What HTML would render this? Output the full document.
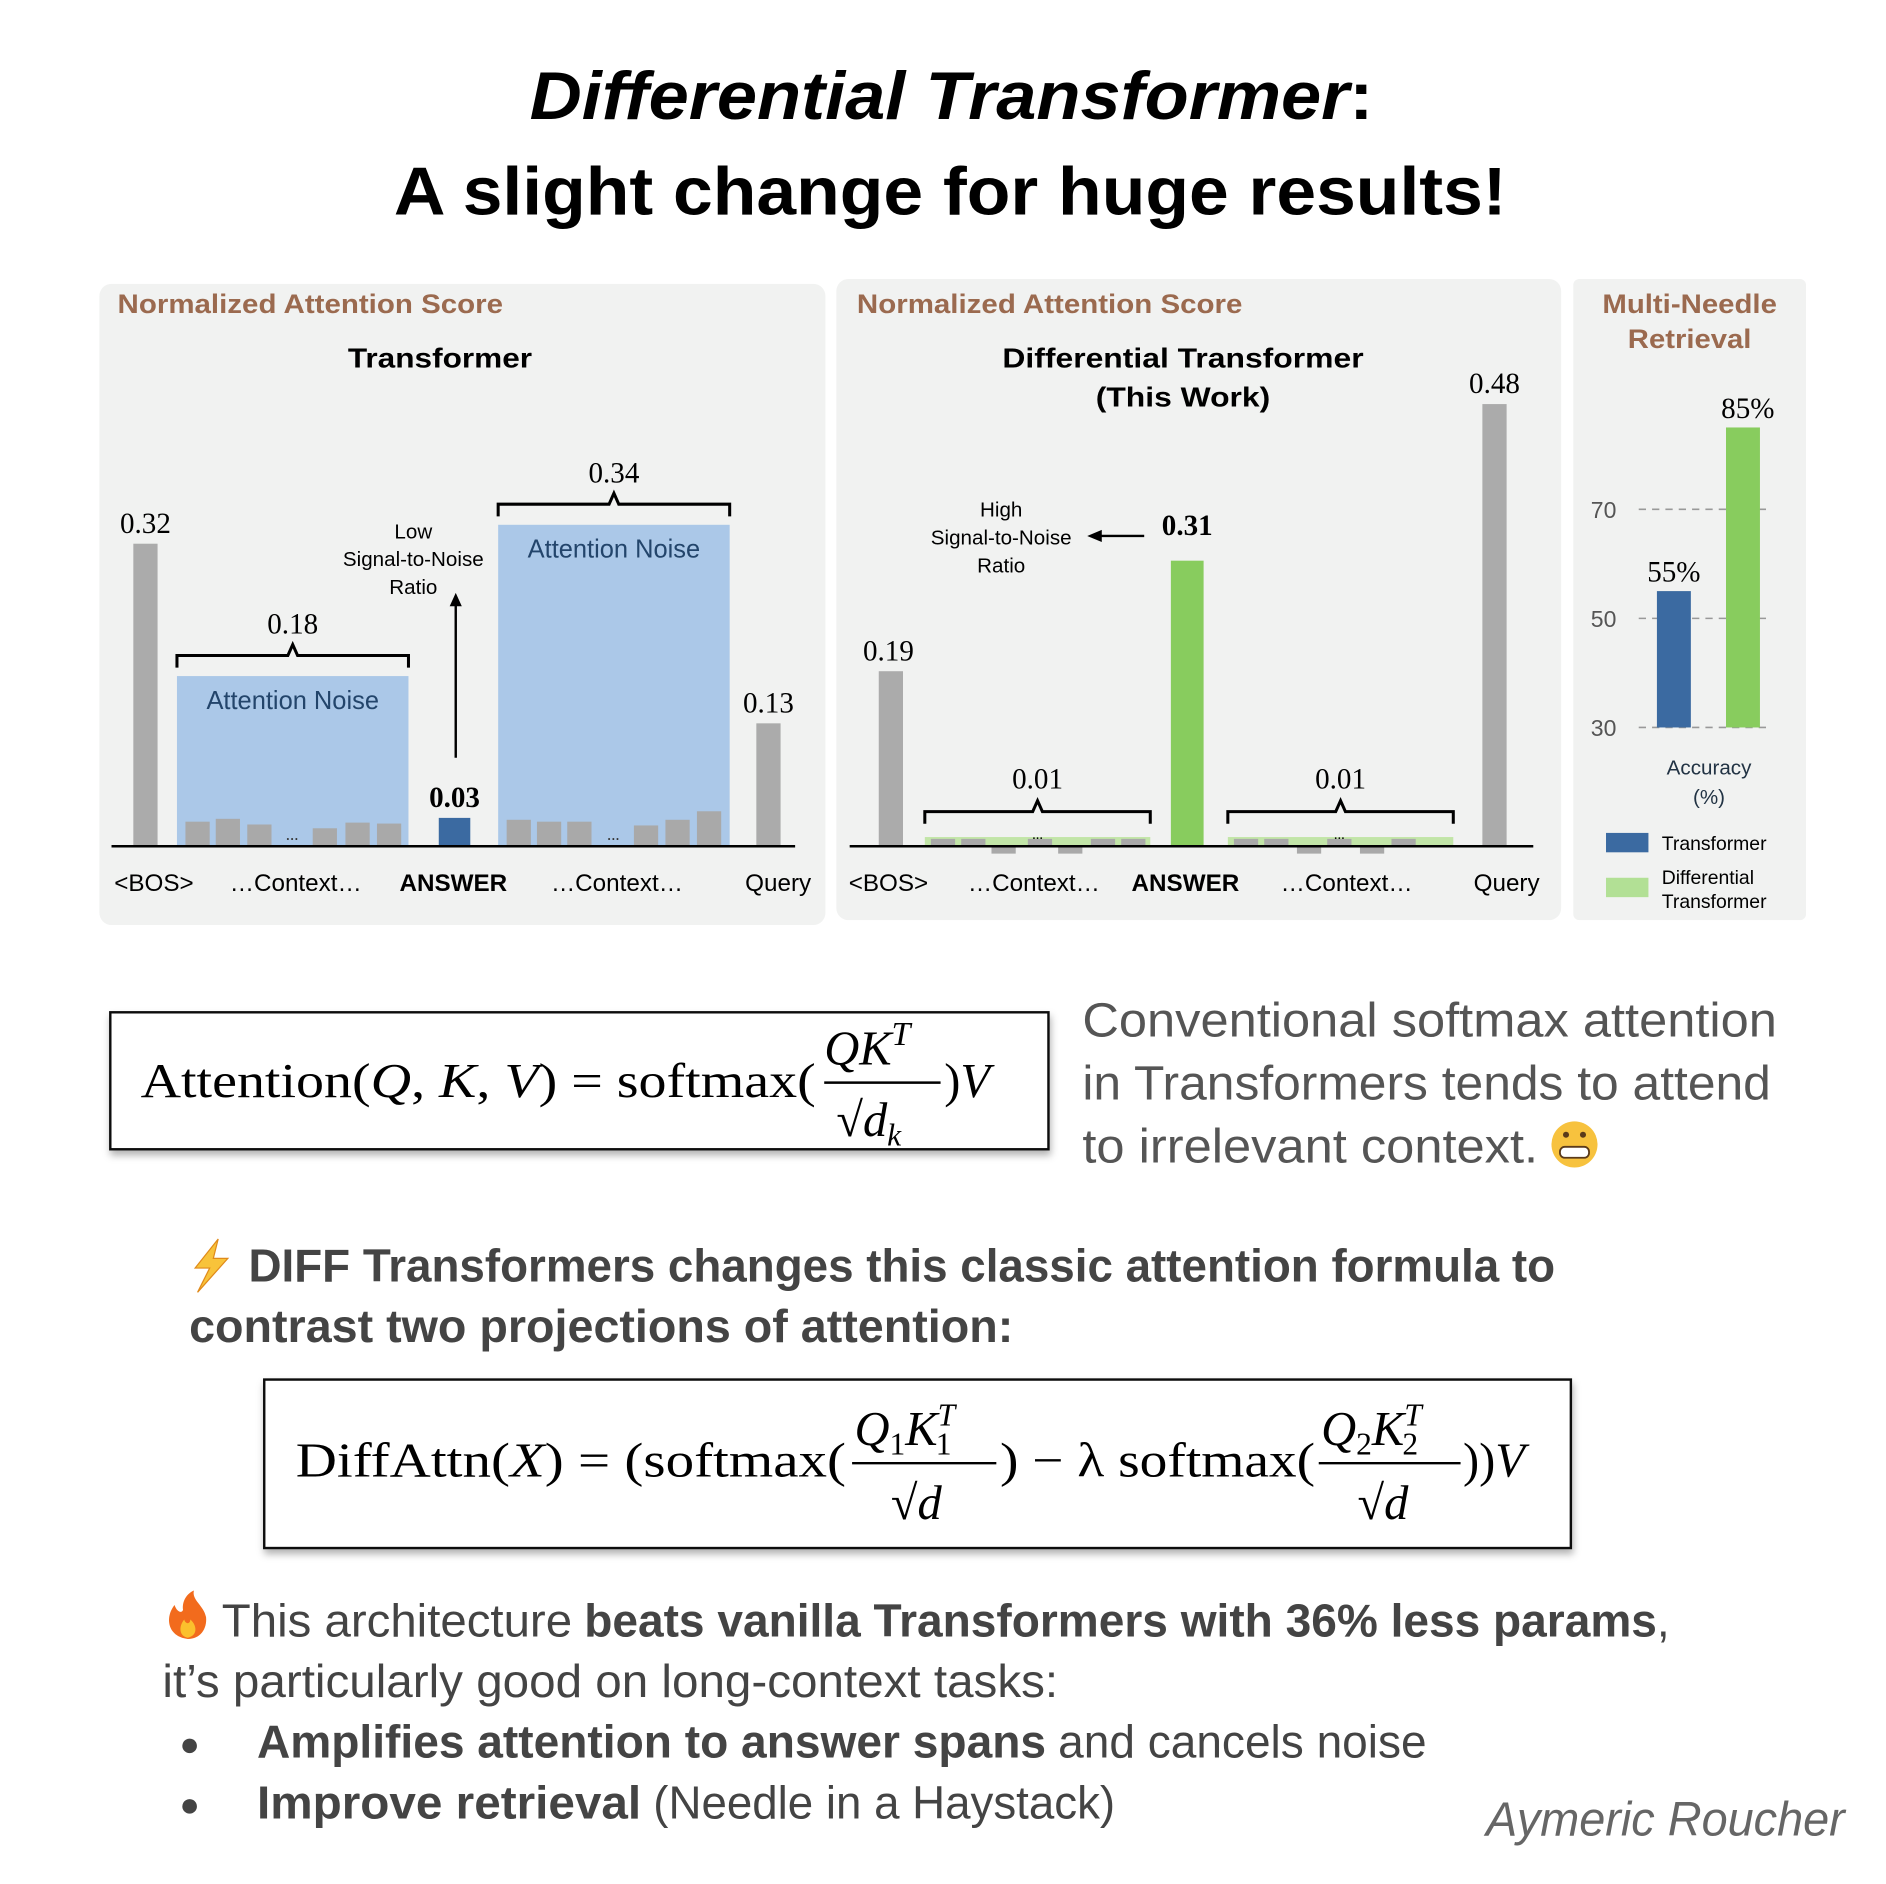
<!DOCTYPE html>
<html><head><meta charset="utf-8"><style>
html,body{margin:0;padding:0;background:#fff;}
svg{display:block;}
.ser{font-family:"Liberation Serif",serif;}
.sans{font-family:"Liberation Sans",sans-serif;}
</style></head><body>
<svg id="root" width="1886" height="1884" viewBox="0 0 1556 1554" xmlns="http://www.w3.org/2000/svg">
<defs>
<filter id="sh" x="-5%" y="-5%" width="110%" height="130%"><feDropShadow dx="1" dy="4" stdDeviation="3" flood-color="#000" flood-opacity="0.3"/></filter>
</defs>
<!-- Title -->
<g class="sans" font-weight="bold" fill="#000">
<text x="437" y="98" font-size="56" textLength="696" lengthAdjust="spacingAndGlyphs"><tspan font-style="italic">Differential Transformer</tspan>:</text>
<text x="325" y="177" font-size="56" textLength="918" lengthAdjust="spacingAndGlyphs">A slight change for huge results!</text>
</g>
<!-- panels -->
<rect x="82" y="234" width="599" height="529" rx="10" fill="#f1f2f1"/>
<rect x="690" y="230" width="598" height="529" rx="10" fill="#f1f2f1"/>
<rect x="1298" y="230" width="192" height="529" rx="5" fill="#f1f2f1"/>
<g class="sans" font-weight="bold" fill="#9b6a4f" font-size="22">
<text x="97" y="258" textLength="318" lengthAdjust="spacingAndGlyphs">Normalized Attention Score</text>
<text x="707" y="258" textLength="318" lengthAdjust="spacingAndGlyphs">Normalized Attention Score</text>
<text x="1394" y="258" text-anchor="middle" textLength="144" lengthAdjust="spacingAndGlyphs">Multi-Needle</text>
<text x="1394" y="287" text-anchor="middle" textLength="102" lengthAdjust="spacingAndGlyphs">Retrieval</text>
</g>
<g class="sans" font-weight="bold" fill="#000" font-size="23">
<text x="363" y="303" text-anchor="middle" textLength="152" lengthAdjust="spacingAndGlyphs">Transformer</text>
<text x="976" y="303" text-anchor="middle" textLength="298" lengthAdjust="spacingAndGlyphs">Differential Transformer</text>
<text x="976" y="335" text-anchor="middle" textLength="144" lengthAdjust="spacingAndGlyphs">(This Work)</text>
</g>
<g id="charts"></g>

<!-- formula 1 -->
<rect x="91" y="835" width="774" height="113" fill="#fff" stroke="#111" stroke-width="2" filter="url(#sh)"/>
<g class="ser" fill="#000" font-size="40">
<text x="116" y="905" textLength="557" lengthAdjust="spacingAndGlyphs">Attention(<tspan font-style="italic">Q</tspan>, <tspan font-style="italic">K</tspan>, <tspan font-style="italic">V</tspan>) = softmax(</text>
<text x="680" y="878" font-style="italic">QK<tspan font-size="28" dy="-16">T</tspan></text>
<line x1="680" y1="893" x2="776" y2="893" stroke="#000" stroke-width="2"/>
<text x="690" y="937">√<tspan font-style="italic">d</tspan><tspan font-size="26" font-style="italic" dy="8">k</tspan></text>
<text x="779" y="905">)<tspan font-style="italic">V</tspan></text>
</g>
<g class="sans" fill="#555" font-size="40">
<text x="893" y="855" textLength="573" lengthAdjust="spacingAndGlyphs">Conventional softmax attention</text>
<text x="893" y="907" textLength="568" lengthAdjust="spacingAndGlyphs">in Transformers tends to attend</text>
<text x="893" y="959" textLength="376" lengthAdjust="spacingAndGlyphs">to irrelevant context.</text>
</g>
<g>
<circle cx="1299" cy="944" r="19" fill="#f7c23e"/>
<circle cx="1292" cy="936" r="2.5" fill="#5a3a1a"/><circle cx="1306" cy="936" r="2.5" fill="#5a3a1a"/>
<rect x="1287" y="946" width="24" height="9" rx="4" fill="#fff" stroke="#5a3a1a" stroke-width="1.5"/>
</g>
<!-- diff text -->
<path d="M180 1022 L161 1046 L173 1046 L163 1066 L188 1038 L176 1038 Z" fill="#f8c33a" stroke="#e08a1a" stroke-width="1"/>
<g class="sans" font-weight="bold" fill="#444" font-size="38">
<text x="205" y="1057" textLength="1078" lengthAdjust="spacingAndGlyphs">DIFF Transformers changes this classic attention formula to</text>
<text x="156" y="1107" textLength="680" lengthAdjust="spacingAndGlyphs">contrast two projections of attention:</text>
</g>
<!-- formula 2 -->
<rect x="218" y="1138" width="1078" height="139" fill="#fff" stroke="#111" stroke-width="2" filter="url(#sh)"/>
<g class="ser" fill="#000" font-size="40">
<text x="244" y="1218" textLength="454" lengthAdjust="spacingAndGlyphs">DiffAttn(<tspan font-style="italic">X</tspan>) = (softmax(</text>
<text x="705" y="1192" font-style="italic">Q<tspan font-size="26" font-style="normal" dy="8">1</tspan><tspan dy="-8">K</tspan><tspan font-size="26" dy="-16">T</tspan><tspan font-size="26" font-style="normal" dx="-16" dy="24">1</tspan></text>
<line x1="703" y1="1207" x2="822" y2="1207" stroke="#000" stroke-width="2"/>
<text x="735" y="1253">√<tspan font-style="italic">d</tspan></text>
<text x="825" y="1218" textLength="260" lengthAdjust="spacingAndGlyphs">) − λ softmax(</text>
<text x="1090" y="1192" font-style="italic">Q<tspan font-size="26" font-style="normal" dy="8">2</tspan><tspan dy="-8">K</tspan><tspan font-size="26" dy="-16">T</tspan><tspan font-size="26" font-style="normal" dx="-16" dy="24">2</tspan></text>
<line x1="1088" y1="1207" x2="1205" y2="1207" stroke="#000" stroke-width="2"/>
<text x="1120" y="1253">√<tspan font-style="italic">d</tspan></text>
<text x="1207" y="1218">))<tspan font-style="italic">V</tspan></text>
</g>
<!-- bottom -->
<g>
<path d="M155 1352 C138 1350 136 1334 144 1324 C146 1330 150 1331 151 1328 C150 1320 155 1314 160 1312 C158 1320 168 1324 170 1334 C171 1344 165 1352 155 1352 Z" fill="#f26b1d"/>
<path d="M155 1351 C148 1350 147 1342 152 1336 C153 1340 157 1340 157 1336 C162 1340 164 1349 155 1351 Z" fill="#fbc02d"/>
</g>
<g class="sans" fill="#444" font-size="38">
<text x="183" y="1350" textLength="289" lengthAdjust="spacingAndGlyphs">This architecture</text>
<text x="482" y="1350" font-weight="bold" textLength="885" lengthAdjust="spacingAndGlyphs">beats vanilla Transformers with 36% less params</text>
<text x="1367" y="1350">,</text>
<text x="134" y="1400" textLength="739" lengthAdjust="spacingAndGlyphs">it’s particularly good on long-context tasks:</text>
<text x="148" y="1448" font-size="28">●</text>
<text x="148" y="1498" font-size="28">●</text>
<text x="212" y="1450" font-weight="bold" textLength="651" lengthAdjust="spacingAndGlyphs">Amplifies attention to answer spans</text>
<text x="873" y="1450" textLength="304" lengthAdjust="spacingAndGlyphs">and cancels noise</text>
<text x="212" y="1500" font-weight="bold" textLength="317" lengthAdjust="spacingAndGlyphs">Improve retrieval</text>
<text x="539" y="1500" textLength="381" lengthAdjust="spacingAndGlyphs">(Needle in a Haystack)</text>
</g>
<text class="sans" x="1522" y="1514" text-anchor="end" font-size="40" font-style="italic" fill="#666" textLength="296" lengthAdjust="spacingAndGlyphs">Aymeric Roucher</text>
</svg>
<script>
// ---- data ----
const xLabels = ['<BOS>', '...Context...', 'ANSWER', '...Context...', 'Query'];
const t1Values = [0.32, 0.18, 0.03, 0.34, 0.13];
const t1Labels = ['0.32', '0.18', '0.03', '0.34', '0.13'];
const t1Small1 = [0.026, 0.029, 0.023, 0.019, 0.025, 0.024];
const t1Small2 = [0.028, 0.026, 0.026, 0.022, 0.028, 0.037];
const t2Values = [0.19, 0.01, 0.31, 0.01, 0.48];
const t2Labels = ['0.19', '0.01', '0.31', '0.01', '0.48'];
const t2Small1 = [0.008, 0.008, -0.008, 0.008, -0.008, 0.008, 0.008];
const t2Small2 = [0.008, 0.008, -0.008, 0.008, -0.008, 0.008];
const accCategories = ['Transformer', 'Differential Transformer'];
const accValues = [55, 85];
const accLabels = ['55%', '85%'];
const accTicks = [30, 50, 70];

const NS = 'http://www.w3.org/2000/svg';
const root = document.getElementById('charts');
function mk(tag, attrs, parent, text) {
  const e = document.createElementNS(NS, tag);
  for (const k in attrs) e.setAttribute(k, attrs[k]);
  if (text !== undefined) e.textContent = text;
  (parent || root).appendChild(e);
  return e;
}
const BASE = 698;
const y1 = v => BASE - v * 780;
const y2 = v => BASE - v * 760;
const yA = v => 600 - (v - 30) * 4.5;

function bracket(x0, x1, y, parent) {
  const m = (x0 + x1) / 2;
  const p = mk('path', {d: `M${x0} ${y+10} L${x0} ${y} L${m-4} ${y} L${m} ${y-9} L${m+4} ${y} L${x1} ${y} L${x1} ${y+10}`, fill: 'none', stroke: '#000', 'stroke-width': 2.5}, parent);
  
  
}
function valLabel(x, y, t, bold, parent) {
  const e = mk('text', {x: x, y: y, 'text-anchor': 'middle', 'font-size': 24, 'font-family': '"Liberation Serif",serif', 'font-weight': bold ? 'bold' : 'normal', fill: '#000'}, parent, t);
  
  
}
function xLabel(x, t, parent) {
  const e = mk('text', {x: x, y: 735, 'text-anchor': 'middle', 'font-size': 20, 'font-family': '"Liberation Sans",sans-serif', 'font-weight': t === 'ANSWER' ? 'bold' : 'normal', fill: '#000'}, parent, t.replace(/\.\.\./g, '…'));
  
  
}
function smallBars(xs, vals, ys, parent) {
  vals.forEach((v, i) => {
    const top = Math.min(ys(v), BASE), h = Math.abs(ys(v) - BASE);
    const r = mk('rect', {x: xs[i], y: top, width: 20, height: h, fill: '#a9a9a9'}, parent);
    
    
  });
}

// ---- chart 1 ----
const g1 = mk('g', {});


{
  const slots = [[110, 130], [146, 337], [362, 388], [411, 602], [624, 644]];
  const colors = ['#ababab', '#abc8e8', '#3b6aa1', '#abc8e8', '#ababab'];
  t1Values.forEach((v, i) => {
    const [a, b] = slots[i];
    const r = mk('rect', {x: a, y: y1(v), width: b - a, height: BASE - y1(v), fill: colors[i]}, g1);
    
    
    if (i === 1 || i === 3) {
      bracket(a, b, y1(v) - 17, g1);
      valLabel((a + b) / 2, y1(v) - 35, t1Labels[i], false, g1);
      mk('text', {x: (a + b) / 2, y: y1(v) + 27, 'text-anchor': 'middle', 'font-size': 21, 'font-family': '"Liberation Sans",sans-serif', fill: '#23456b'}, g1, 'Attention Noise');
    } else {
      valLabel((a + b) / 2, y1(v) - 9, t1Labels[i], i === 2, g1);
    }
  });
  smallBars([153, 178, 204, 258, 285, 311], t1Small1, y1, g1);
  smallBars([418, 443, 468, 523, 549, 575], t1Small2, y1, g1);
  mk('text', {x: 241, y: 693, 'text-anchor': 'middle', 'font-size': 14, fill: '#333'}, g1, '...');
  mk('text', {x: 506, y: 693, 'text-anchor': 'middle', 'font-size': 14, fill: '#333'}, g1, '...');
  mk('line', {x1: 92, y1: BASE, x2: 656, y2: BASE, stroke: '#000', 'stroke-width': 2}, g1);
  mk('line', {x1: 376, y1: 625, x2: 376, y2: 494, stroke: '#000', 'stroke-width': 2}, g1);
  mk('path', {d: 'M371 500 L376 489 L381 500 Z', fill: '#000'}, g1);
  ['Low', 'Signal-to-Noise', 'Ratio'].forEach((t, i) => mk('text', {x: 341, y: 444 + i * 23, 'text-anchor': 'middle', 'font-size': 17, 'font-family': '"Liberation Sans",sans-serif'}, g1, t));
  [127, 244, 374, 509, 642].forEach((x, i) => xLabel(x, xLabels[i], g1));
}

// ---- chart 2 ----
const g2 = mk('g', {});


{
  const slots = [[725, 745], [763, 949], [966, 993], [1013, 1199], [1223, 1243]];
  const colors = ['#ababab', '#c2e5a8', '#88cc5e', '#c2e5a8', '#ababab'];
  t2Values.forEach((v, i) => {
    const [a, b] = slots[i];
    const r = mk('rect', {x: a, y: y2(v), width: b - a, height: BASE - y2(v), fill: colors[i]}, g2);
    
    
    if (i === 1 || i === 3) {
      bracket(a, b, y2(v) - 21, g2);
      valLabel((a + b) / 2, y2(v) - 40, t2Labels[i], false, g2);
    } else {
      valLabel((a + b) / 2 + (i === 0 ? -2 : 0), y2(v) - 9 - (i === 2 ? 12 : 0), t2Labels[i], i === 2, g2);
    }
  });
  smallBars([768, 793, 818, 848, 873, 900, 925], t2Small1, y2, g2);
  smallBars([1018, 1043, 1070, 1095, 1122, 1148].slice(0, 6), t2Small2, y2, g2);
  mk('text', {x: 856, y: 692, 'text-anchor': 'middle', 'font-size': 12}, g2, '...');
  mk('text', {x: 1105, y: 692, 'text-anchor': 'middle', 'font-size': 12}, g2, '...');
  mk('line', {x1: 701, y1: BASE, x2: 1265, y2: BASE, stroke: '#000', 'stroke-width': 2}, g2);
  mk('line', {x1: 944, y1: 442, x2: 905, y2: 442, stroke: '#000', 'stroke-width': 2}, g2);
  mk('path', {d: 'M909 437 L897 442 L909 447 Z', fill: '#000'}, g2);
  ['High', 'Signal-to-Noise', 'Ratio'].forEach((t, i) => mk('text', {x: 826, y: 426 + i * 23, 'text-anchor': 'middle', 'font-size': 17, 'font-family': '"Liberation Sans",sans-serif'}, g2, t));
  [733, 853, 978, 1111, 1243].forEach((x, i) => xLabel(x, xLabels[i], g2));
}

// ---- chart 3 ----
const g3 = mk('g', {});


{
  accTicks.forEach(t => {
    const l = mk('line', {x1: 1352, y1: yA(t), x2: 1462, y2: yA(t), stroke: '#999', 'stroke-width': 1.3, 'stroke-dasharray': '6 5'}, g3);
    
    
    const tx = mk('text', {x: 1323, y: yA(t) + 7, 'text-anchor': 'middle', 'font-size': 19, 'font-family': '"Liberation Sans",sans-serif', fill: '#555'}, g3, String(t));
    
    
  });
  const xs = [1367, 1424], cols = ['#3b6aa1', '#88cc5e'];
  accValues.forEach((v, i) => {
    const r = mk('rect', {x: xs[i], y: yA(v), width: 28, height: yA(30) - yA(v), fill: cols[i]}, g3);
    
    
    valLabel(xs[i] + 14 + (i ? 4 : 0), yA(v) - 8, accLabels[i], false, g3);
  });
  mk('text', {x: 1410, y: 639, 'text-anchor': 'middle', 'font-size': 17, 'font-family': '"Liberation Sans",sans-serif', fill: '#223344'}, g3, 'Accuracy');
  mk('text', {x: 1410, y: 663, 'text-anchor': 'middle', 'font-size': 17, 'font-family': '"Liberation Sans",sans-serif', fill: '#223344'}, g3, '(%)');
  const sw = ['#3b6aa1', '#b2e095'];
  accCategories.forEach((c, i) => {
    const y = i === 0 ? 687 : 724;
    const r = mk('rect', {x: 1325, y: y, width: 35, height: 16, fill: sw[i]}, g3);
    
    
    if (i === 0) mk('text', {x: 1371, y: 701, 'font-size': 16, 'font-family': '"Liberation Sans",sans-serif'}, g3, c);
    else {
      mk('text', {x: 1371, y: 729, 'font-size': 16, 'font-family': '"Liberation Sans",sans-serif'}, g3, 'Differential');
      mk('text', {x: 1371, y: 749, 'font-size': 16, 'font-family': '"Liberation Sans",sans-serif'}, g3, 'Transformer');
    }
  });
}
</script>
</body></html>
